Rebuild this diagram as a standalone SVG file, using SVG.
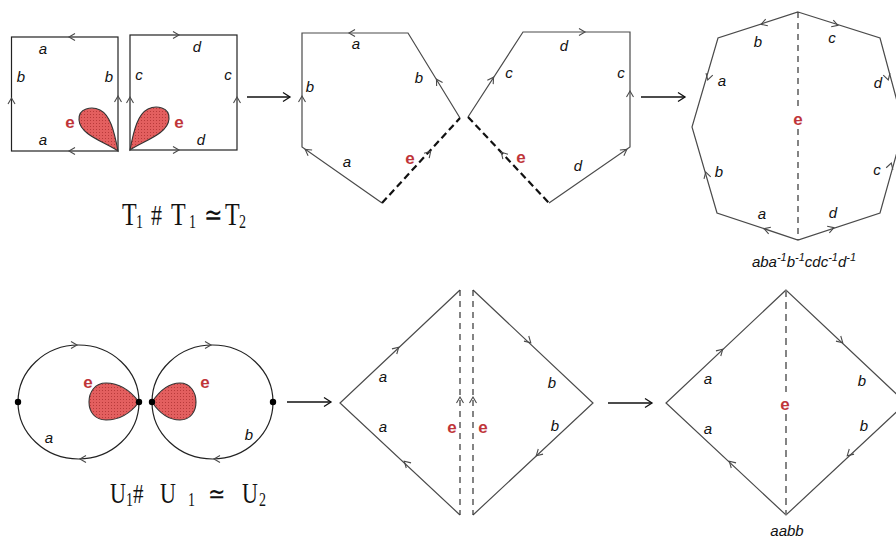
<svg xmlns="http://www.w3.org/2000/svg" width="896" height="540" viewBox="0 0 896 540">
<style>
.edge{fill:none;stroke:#4a4a4a;stroke-width:1.2}
.sq{fill:none;stroke:#222;stroke-width:1.2}
.dash{fill:none;stroke:#111;stroke-width:2.2;stroke-dasharray:7 4}
.dash2{fill:none;stroke:#333;stroke-width:1.2;stroke-dasharray:6 5}
.dash3{fill:none;stroke:#777;stroke-width:1.8;stroke-dasharray:7 5}
.ah{fill:none;stroke:#4a4a4a;stroke-width:1.1}
.bigah{fill:none;stroke:#111;stroke-width:1.3}
.conn{fill:none;stroke:#111;stroke-width:1.3}
.lbl{font-family:"Liberation Sans",Arial,sans-serif;font-style:italic;font-size:15px;fill:#111;text-anchor:middle}
.e{font-family:"Liberation Sans",Arial,sans-serif;font-weight:bold;font-size:17px;fill:#c0353a;text-anchor:middle}
.drop{fill:url(#dots);stroke:#333;stroke-width:1.1}
.frm{font-family:"Liberation Serif","Times New Roman",serif;fill:#111}
.dot{fill:#000}
</style>
<defs>
<pattern id="dots" width="3" height="3" patternUnits="userSpaceOnUse">
<rect width="3" height="3" fill="#e35f5f"/>
<rect width="1" height="1" fill="#b83a3a"/>
</pattern>
<path id="ch" class="ah" d="M-5,-3.5 L1,0 L-5,3.5"/>
<path id="bch" class="bigah" d="M-7,-4.5 L0,0 L-7,4.5"/>
</defs>
<rect width="896" height="540" fill="#fff"/>

<g id="connectors">
<line class="conn" x1="247" y1="97" x2="290" y2="97"/><use href="#bch" transform="translate(290,97)"/>
<line class="conn" x1="641" y1="97" x2="685" y2="97"/><use href="#bch" transform="translate(685,97)"/>
<line class="conn" x1="287" y1="402" x2="331" y2="402"/><use href="#bch" transform="translate(331,402)"/>
<line class="conn" x1="608" y1="403" x2="652" y2="403"/><use href="#bch" transform="translate(652,403)"/>
</g>

<g id="square1">
<rect class="sq" x="11.5" y="37" width="106.5" height="114"/>
<use href="#ch" transform="translate(70,37) rotate(180)"/>
<use href="#ch" transform="translate(70,151) rotate(180)"/>
<use href="#ch" transform="translate(11.5,99) rotate(-90)"/>
<use href="#ch" transform="translate(118,97) rotate(-90)"/>
<path class="drop" d="M118,151 C105,142 80,135 79,120 C78,108 92,106 100,110 C110,115 114,130 118,151 Z"/>
<text class="lbl" x="43" y="54">a</text>
<text class="lbl" x="21" y="82">b</text>
<text class="lbl" x="109" y="82">b</text>
<text class="lbl" x="43" y="145">a</text>
<text class="e" x="70" y="128">e</text>
</g>

<g id="square2">
<rect class="sq" x="130" y="35" width="107" height="115"/>
<use href="#ch" transform="translate(178,35)"/>
<use href="#ch" transform="translate(178,150)"/>
<use href="#ch" transform="translate(130,98) rotate(-90)"/>
<use href="#ch" transform="translate(237,98) rotate(-90)"/>
<path class="drop" d="M130,150 C143,141 168,134 169,119 C170,107 156,105 148,109 C138,114 134,129 130,150 Z"/>
<text class="lbl" x="197" y="52">d</text>
<text class="lbl" x="139" y="80">c</text>
<text class="lbl" x="228" y="80">c</text>
<text class="lbl" x="201" y="145">d</text>
<text class="e" x="179" y="128">e</text>
</g>

<g id="formula-t">
<g transform="translate(0,225) scale(1,1.35)" class="frm">
<text x="122" y="0" font-size="24">T</text>
<text x="136" y="2" font-size="14">1</text>
<text x="151" y="0" font-size="22">#</text>
<text x="171" y="0" font-size="24">T</text>
<text x="189" y="2" font-size="14">1</text>
<text x="204" y="0" font-size="22">≃</text>
<text x="225" y="0" font-size="24">T</text>
<text x="239" y="2" font-size="14">2</text>
</g>
</g>

<g id="pentagon-left">
<path class="edge" d="M382,203 L302,147 L302,33 L408,33 L460,118"/>
<line class="dash" x1="382" y1="203" x2="460" y2="118"/>
<use href="#ch" transform="translate(350,33) rotate(180)"/>
<use href="#ch" transform="translate(302,97) rotate(-90)"/>
<use href="#ch" transform="translate(437,80) rotate(-121.5)"/>
<use href="#ch" transform="translate(306,150) rotate(-145)"/>
<use href="#ch" transform="translate(430,152) rotate(-47.5)"/>
<text class="lbl" x="356" y="49">a</text>
<text class="lbl" x="310" y="92">b</text>
<text class="lbl" x="419" y="83">b</text>
<text class="lbl" x="347" y="167">a</text>
<text class="e" x="410" y="164">e</text>
</g>

<g id="pentagon-right">
<path class="edge" d="M468,117 L523,32 L630,32 L630,147 L549,203"/>
<line class="dash" x1="468" y1="117" x2="549" y2="203"/>
<use href="#ch" transform="translate(493,78) rotate(-57)"/>
<use href="#ch" transform="translate(584,32)"/>
<use href="#ch" transform="translate(630,92) rotate(-90)"/>
<use href="#ch" transform="translate(626,150) rotate(-34.7)"/>
<use href="#ch" transform="translate(502,153) rotate(-133)"/>
<text class="lbl" x="564" y="51">d</text>
<text class="lbl" x="509" y="78">c</text>
<text class="lbl" x="621" y="78">c</text>
<text class="lbl" x="578" y="171">d</text>
<text class="e" x="521" y="163">e</text>
</g>

<g id="octagon">
<path class="edge" d="M798,12 L880,38 L904,127 L880,213 L798,240 L717,213 L692,127 L718,38 Z"/>
<line class="dash2" x1="798" y1="12" x2="798" y2="107"/>
<line class="dash2" x1="798" y1="129" x2="798" y2="240"/>
<use href="#ch" transform="translate(762,24) rotate(162)"/>
<use href="#ch" transform="translate(837,25) rotate(17.6)"/>
<use href="#ch" transform="translate(708,79) rotate(106)"/>
<use href="#ch" transform="translate(706,173) rotate(-106)"/>
<use href="#ch" transform="translate(765,229) rotate(-161.6)"/>
<use href="#ch" transform="translate(833,228) rotate(-18.4)"/>
<use href="#ch" transform="translate(888,79) rotate(73.7)"/>
<use href="#ch" transform="translate(891,164) rotate(-73)"/>
<text class="lbl" x="758" y="47">b</text>
<text class="lbl" x="832" y="43">c</text>
<text class="lbl" x="722" y="86">a</text>
<text class="lbl" x="878" y="88">d</text>
<text class="e" x="798" y="125">e</text>
<text class="lbl" x="719" y="177">b</text>
<text class="lbl" x="877" y="175">c</text>
<text class="lbl" x="762" y="219">a</text>
<text class="lbl" x="833" y="218">d</text>
<text class="lbl" x="804" y="267" font-size="15">aba<tspan font-size="11" dy="-6">-1</tspan><tspan dy="6">b</tspan><tspan font-size="11" dy="-6">-1</tspan><tspan dy="6">cdc</tspan><tspan font-size="11" dy="-6">-1</tspan><tspan dy="6">d</tspan><tspan font-size="11" dy="-6">-1</tspan></text>
</g>

<g id="circle-left">
<ellipse class="sq" cx="78.5" cy="402" rx="60.5" ry="57"/>
<use href="#ch" transform="translate(76,345)"/>
<use href="#ch" transform="translate(81,459) rotate(180)"/>
<path class="drop" d="M139,402 C130,390 118,383 106,383 C95,383 89,392 89,402 C89,412 95,420 106,420 C118,420 130,414 139,402 Z"/>
<circle class="dot" cx="18" cy="402" r="3.2"/>
<circle class="dot" cx="139" cy="402" r="3.2"/>
<text class="lbl" x="49" y="443">a</text>
<text class="e" x="88" y="388">e</text>
</g>

<g id="circle-right">
<ellipse class="sq" cx="212.5" cy="402" rx="60.5" ry="57"/>
<use href="#ch" transform="translate(210,345)"/>
<use href="#ch" transform="translate(215,459) rotate(180)"/>
<path class="drop" d="M152,402 C160,390 170,383 180,383 C190,383 196,392 196,402 C196,412 190,420 180,420 C170,420 160,414 152,402 Z"/>
<circle class="dot" cx="152" cy="402" r="3.2"/>
<circle class="dot" cx="273" cy="402" r="3.2"/>
<text class="lbl" x="249" y="440">b</text>
<text class="e" x="205" y="388">e</text>
</g>

<g id="formula-u">
<g transform="translate(0,503) scale(1,1.3)" class="frm">
<text x="110" y="0" font-size="22">U</text>
<text x="126" y="2" font-size="14">1</text>
<text x="133" y="0" font-size="21">#</text>
<text x="160" y="0" font-size="22">U</text>
<text x="188" y="2" font-size="14">1</text>
<text x="208" y="0" font-size="21">≃</text>
<text x="242" y="0" font-size="22">U</text>
<text x="259" y="2" font-size="14">2</text>
</g>
</g>

<g id="diamond-split">
<path class="edge" d="M460,290 L340,403 L460,515"/>
<path class="edge" d="M473,290 L593,403 L473,515"/>
<line class="dash2" x1="460" y1="290" x2="460" y2="515"/>
<line class="dash2" x1="473" y1="290" x2="473" y2="515"/>
<use href="#ch" transform="translate(398,348) rotate(-43.3)"/>
<use href="#ch" transform="translate(405,462) rotate(-137)"/>
<use href="#ch" transform="translate(530,342) rotate(43.3)"/>
<use href="#ch" transform="translate(537,455) rotate(137)"/>
<use href="#ch" transform="translate(460,398) rotate(-90)"/>
<use href="#ch" transform="translate(473,398) rotate(-90)"/>
<text class="lbl" x="383" y="382">a</text>
<text class="lbl" x="383" y="432">a</text>
<text class="lbl" x="552" y="388">b</text>
<text class="lbl" x="555" y="431">b</text>
<text class="e" x="452" y="433">e</text>
<text class="e" x="483" y="433">e</text>
</g>

<g id="diamond">
<path class="edge" d="M786,290 L666,403 L786,515 L906,403 Z"/>
<line class="dash3" x1="786" y1="290" x2="786" y2="392"/>
<line class="dash3" x1="786" y1="414" x2="786" y2="515"/>
<use href="#ch" transform="translate(722,350) rotate(-43.3)"/>
<use href="#ch" transform="translate(730,462) rotate(-137)"/>
<use href="#ch" transform="translate(842,342) rotate(43.3)"/>
<use href="#ch" transform="translate(848,455) rotate(137)"/>
<text class="lbl" x="708" y="384">a</text>
<text class="lbl" x="708" y="434">a</text>
<text class="lbl" x="862" y="386">b</text>
<text class="lbl" x="864" y="431">b</text>
<text class="e" x="785" y="410">e</text>
<text class="lbl" x="787" y="536" font-size="14">aabb</text>
</g>
</svg>
